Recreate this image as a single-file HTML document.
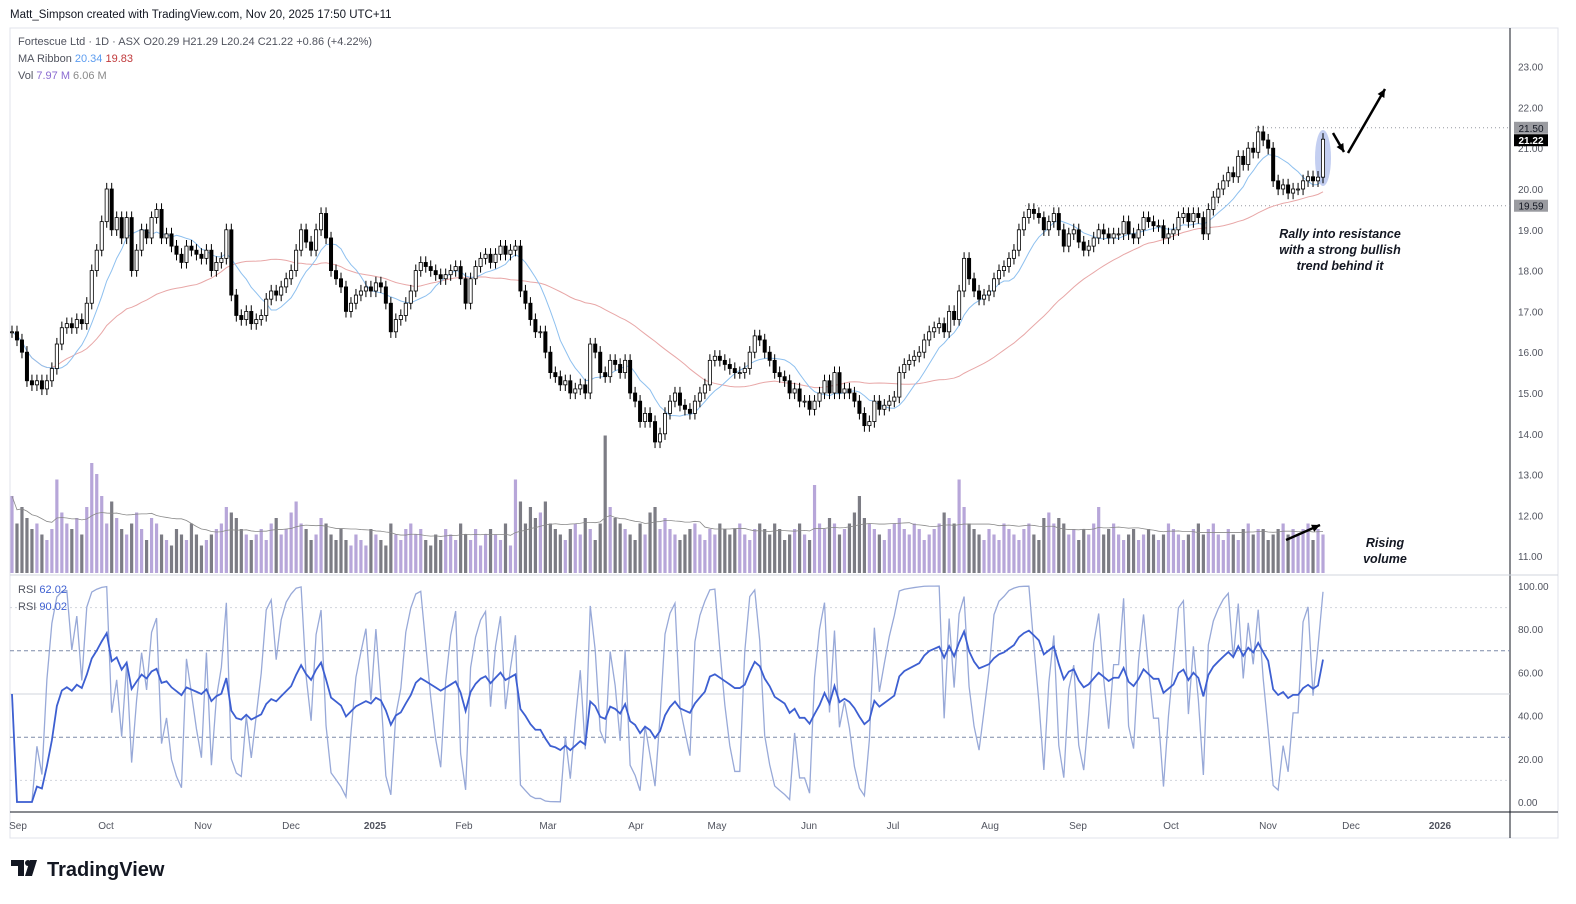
<!DOCTYPE html>
<html><head><meta charset="utf-8">
<style>
body{margin:0;background:#fff;font-family:"Liberation Sans",sans-serif;}
#wrap{position:relative;width:1576px;height:904px;overflow:hidden;background:#fff}
svg{position:absolute;left:0;top:0}
</style></head>
<body>
<div id="wrap">
<svg id="chart" width="1576" height="904"></svg>
</div>
<script>
const closes=[16.5,16.3,16.0,15.3,15.2,15.3,15.1,15.3,15.6,16.2,16.6,16.7,16.6,16.8,16.7,17.2,18.0,18.5,19.2,20.0,19.0,19.3,18.8,19.3,18.0,18.5,19.0,18.8,19.3,19.5,18.8,18.9,18.6,18.4,18.2,18.6,18.5,18.4,18.3,18.5,18.0,18.2,18.3,19.0,17.4,16.9,16.8,17.0,16.7,16.8,16.9,17.3,17.5,17.4,17.6,17.8,18.0,18.5,19.0,18.7,18.5,19.0,19.4,18.8,18.0,17.8,17.6,17.0,17.2,17.4,17.5,17.6,17.5,17.7,17.6,17.2,16.5,16.8,16.9,17.2,17.5,18.0,18.2,18.1,18.0,17.9,17.8,17.9,18.0,18.1,17.8,17.2,17.8,18.1,18.3,18.4,18.2,18.4,18.6,18.4,18.5,18.6,17.5,17.2,16.8,16.5,16.5,16.0,15.5,15.4,15.2,15.3,15.0,15.1,15.2,15.0,16.2,16.0,15.5,15.4,15.8,15.7,15.5,15.8,15.0,14.8,14.3,14.5,14.3,13.8,14.0,14.5,14.8,15.0,14.7,14.6,14.5,14.8,15.0,15.2,15.8,15.9,15.8,15.7,15.6,15.5,15.5,15.6,16.0,16.4,16.3,16.0,15.8,15.5,15.4,15.3,15.0,15.1,14.8,14.8,14.6,14.8,15.0,15.3,15.0,15.5,15.0,15.1,15.0,14.8,14.5,14.2,14.3,14.8,14.6,14.7,14.8,14.9,15.5,15.7,15.8,15.9,16.0,16.3,16.5,16.6,16.7,16.5,17.0,16.8,17.5,18.3,17.8,17.5,17.3,17.4,17.5,17.8,18.0,18.1,18.3,18.5,19.0,19.3,19.5,19.4,19.3,19.0,19.2,19.4,19.0,18.6,18.9,19.0,18.7,18.5,18.6,18.8,19.0,18.9,18.8,18.9,18.9,19.2,18.9,18.8,19.0,19.3,19.2,19.1,19.1,18.8,18.9,19.0,19.3,19.4,19.2,19.4,19.3,18.9,19.5,19.8,20.0,20.2,20.4,20.3,20.8,20.6,21.0,20.9,21.4,21.2,21.0,20.2,20.0,20.1,19.9,20.0,20.0,20.2,20.3,20.2,20.29,21.22];
const volumes=[14,9,12,10,8,9,7,6,8,17,11,9,8,10,7,12,20,18,14,9,13,10,8,7,9,11,8,6,10,9,7,6,5,8,7,6,9,7,5,6,7,8,9,12,11,10,8,7,6,7,8,6,9,10,7,8,11,13,9,8,6,7,10,9,7,6,8,6,5,7,6,5,8,7,6,5,9,7,6,8,9,7,8,6,5,7,6,8,7,6,9,7,6,8,5,7,8,7,6,9,5,17,13,9,12,10,11,13,9,8,7,6,8,9,7,10,8,6,9,25,12,10,9,8,7,6,9,7,11,12,8,10,8,7,6,7,8,9,7,6,8,7,9,8,7,8,9,7,6,8,9,8,7,9,8,6,7,8,9,7,6,16,9,8,10,9,7,8,9,11,14,10,9,8,7,6,8,9,10,8,7,9,8,6,7,8,9,11,10,9,17,12,9,8,7,6,8,7,6,9,8,7,6,8,9,7,6,10,11,9,10,9,7,8,6,8,7,9,12,7,8,9,7,6,7,8,6,7,8,7,6,7,9,8,7,6,7,8,9,7,8,9,7,6,8,7,6,8,9,7,8,8,6,7,8,9,7,8,7,8,9,6,8,7,9,8,6,8];
const priceTicks=[23,22,21,20,19,18,17,16,15,14,13,12,11];
const rsiTicks=[100,80,60,40,20,0];
const monthLabels=["Sep","Oct","Nov","Dec","2025","Feb","Mar","Apr","May","Jun","Jul","Aug","Sep","Oct","Nov","Dec","2026"];
const monthPos=[18,106,203,291,375,464,548,636,717,809,893,990,1078,1171,1268,1351,1440];

const NS="http://www.w3.org/2000/svg";
const svg=document.getElementById('chart');
function mk(tag,attrs,parent){const e=document.createElementNS(NS,tag);for(const k in attrs)e.setAttribute(k,attrs[k]);(parent||svg).appendChild(e);return e;}
const py=p=>189-(p-20)*40.8;
const ry=v=>802-v*2.16;
const n=closes.length;
const x0=12,x1=1323;
const xs=i=>x0+i*(x1-x0)/(n-1);
const vy=v=>573-v*5.5;

let e;
e=mk('rect',{x:10,y:28,width:1548,height:810,fill:'none',stroke:'#e0e3eb'});

e=mk('line',{x1:1510,y1:28,x2:1510,y2:838,stroke:'#131722','stroke-width':1});

e=mk('line',{x1:10,y1:575,x2:1558,y2:575,stroke:'#d1d4dc'});

e=mk('line',{x1:10,y1:812,x2:1558,y2:812,stroke:'#131722'});


priceTicks.forEach(p=>{const t=mk('text',{x:1518,y:py(p)+4,'font-size':10,fill:'#50535e'});t.textContent=p.toFixed(2);
});
rsiTicks.forEach(v=>{const t=mk('text',{x:1518,y:ry(v)+4,'font-size':10,fill:'#50535e'});t.textContent=v.toFixed(2);
});
monthLabels.forEach((m,i)=>{const t=mk('text',{x:monthPos[i],y:829,'font-size':10,fill:'#50535e','text-anchor':'middle','font-weight':m.length==4?'bold':'normal'});t.textContent=m;
});

e=mk('line',{x1:1255,y1:py(21.5),x2:1510,y2:py(21.5),stroke:'#9598a1','stroke-dasharray':'1,3'});

e=mk('line',{x1:1025,y1:py(19.59),x2:1510,y2:py(19.59),stroke:'#9598a1','stroke-dasharray':'1,3'});


const opens=closes.map((c,i)=>i==0?c:closes[i-1]);
volumes.slice(0,n).forEach((v,i)=>{const up=closes[i]>=opens[i];
const b=mk('rect',{x:xs(i)-1.6,y:vy(v),width:3.2,height:573-vy(v),fill:up?'#b7a6d9':'#7c7c84'});
});
function sma(a,k){return a.map((_,i)=>{const s=a.slice(Math.max(0,i-k+1),i+1);return s.reduce((x,y)=>x+y,0)/s.length;});}
const vma=sma(volumes.slice(0,n),20);
e=mk('polyline',{points:vma.map((v,i)=>xs(i)+','+vy(v)).join(' '),fill:'none',stroke:'#8a8a8a','stroke-width':0.8});


const ma1=sma(closes,9),ma2=sma(closes,38);
e=mk('polyline',{points:ma2.map((v,i)=>xs(i)+','+py(v)).join(' '),fill:'none',stroke:'#e8a7a7','stroke-width':1});

e=mk('polyline',{points:ma1.map((v,i)=>xs(i)+','+py(v)).join(' '),fill:'none',stroke:'#8ec0ef','stroke-width':1});


e=mk('ellipse',{cx:1323,cy:158,rx:8,ry:28,fill:'#b5c3ee',opacity:0.8});


closes.forEach((c,i)=>{const o=opens[i];const hi=Math.max(o,c)+0.15,lo=Math.min(o,c)-0.15;const x=xs(i);
const g=mk('g',{});
mk('line',{x1:x,y1:py(hi),x2:x,y2:py(lo),stroke:'#000','stroke-width':1},g);
const top=py(Math.max(o,c)),bot=py(Math.min(o,c));
mk('rect',{x:x-1.6,y:top,width:3.2,height:Math.max(1,bot-top),fill:c>=o?'#fff':'#000',stroke:'#000','stroke-width':0.8},g);});

function arrow(xa,ya,xb,yb,name){const g=mk('g',{});
mk('line',{x1:xa,y1:ya,x2:xb,y2:yb,stroke:'#000','stroke-width':2.5},g);
const a=Math.atan2(yb-ya,xb-xa),L=9;
mk('polygon',{points:`${xb},${yb} ${xb-L*Math.cos(a-0.45)},${yb-L*Math.sin(a-0.45)} ${xb-L*Math.cos(a+0.45)},${yb-L*Math.sin(a+0.45)}`,fill:'#000'},g);}
arrow(1333,133,1344,152,'pullback-arrow');
arrow(1348,153,1385,89,'bullish-arrow');
arrow(1286,540,1320,525,'volume-arrow');

function txt(x,y,s,name){const t=mk('text',{x:x,y:y,'font-size':12.5,'font-style':'italic','font-weight':'bold','text-anchor':'middle',fill:'#131722'});t.textContent=s;
}
txt(1340,238,'Rally into resistance','annotation-line-1');
txt(1340,254,'with a strong bullish','annotation-line-2');
txt(1340,270,'trend behind it','annotation-line-3');
txt(1385,547,'Rising','volume-annotation-1');
txt(1385,563,'volume','volume-annotation-2');

function plabel(y,s,bg,name){const g=mk('g',{});
mk('rect',{x:1514,y:y-6,width:34,height:12,fill:bg},g);
const t=mk('text',{x:1531,y:y+4,'font-size':10,'text-anchor':'middle',fill:bg=='#000'?'#fff':'#131722','font-weight':bg=='#000'?'bold':'normal'},g);t.textContent=s;}
plabel(py(21.5),'21.50','#9a9ba0','resistance-price-label');
plabel(py(21.22)+1,'21.22','#000','last-price-label');
plabel(py(19.59),'19.59','#9a9ba0','support-price-label');

[[90,'2,3','#d1d4dc'],[70,'4,3','#7d8aa8'],[50,'','#d1d4dc'],[30,'4,3','#7d8aa8'],[10,'2,3','#d1d4dc']].forEach(b=>{
const l=mk('line',{x1:10,y1:ry(b[0]),x2:1510,y2:ry(b[0]),stroke:b[2],'stroke-dasharray':b[1]});
});
function rsi(a,k){const out=[];let ag=0,al=0;for(let i=0;i<a.length;i++){if(i==0){out.push(50);continue;}
const d=a[i]-a[i-1],g=Math.max(d,0),l=Math.max(-d,0);
if(i<=k){ag=(ag*(i-1)+g)/i;al=(al*(i-1)+l)/i;}else{ag=(ag*(k-1)+g)/k;al=(al*(k-1)+l)/k;}
out.push(al==0?99:100-100/(1+ag/al));}return out;}
const rFast=rsi(closes,2),rSlow=rsi(closes,14);
e=mk('polyline',{points:rFast.map((v,i)=>xs(i)+','+ry(v)).join(' '),fill:'none',stroke:'#98a9d8','stroke-width':1.3});

e=mk('polyline',{points:rSlow.map((v,i)=>xs(i)+','+ry(v)).join(' '),fill:'none',stroke:'#3d5fd1','stroke-width':1.8});


function head(x,y,parts,name,fs){const t=mk('text',{x:x,y:y,'font-size':fs||11});
parts.forEach(p=>{const s=mk('tspan',{fill:p[1]},t);s.textContent=p[0];});}
head(10,18,[['Matt_Simpson created with TradingView.com, Nov 20, 2025 17:50 UTC+11','#131722']],'author-caption',11.5);
head(18,45,[['Fortescue Ltd · 1D · ASX  O20.29  H21.29  L20.24  C21.22  +0.86 (+4.22%)','#50535e']],'symbol-legend');
head(18,62,[['MA Ribbon  ','#50535e'],['20.34','#5b9cf0'],['  19.83','#c0393b']],'ma-legend');
head(18,79,[['Vol  ','#50535e'],['7.97 M','#8a6bd1'],['  6.06 M','#8a8a8a']],'vol-legend');
head(18,593,[['RSI  ','#50535e'],['62.02','#3d5fd1']],'rsi-legend-1');
head(18,610,[['RSI  ','#50535e'],['90.02','#3d5fd1']],'rsi-legend-2');

const lg=mk('g',{});
mk('path',{d:'M11 860h13v16h-6v-10h-7z M30 860 h7 l-5 16 h-7z',fill:'#131722'},lg);
mk('circle',{cx:28,cy:863,r:3,fill:'#131722'},lg);
const lt=mk('text',{x:47,y:876,'font-size':20,'font-weight':'bold',fill:'#131722'},lg);lt.textContent='TradingView';
</script>
</body></html>
